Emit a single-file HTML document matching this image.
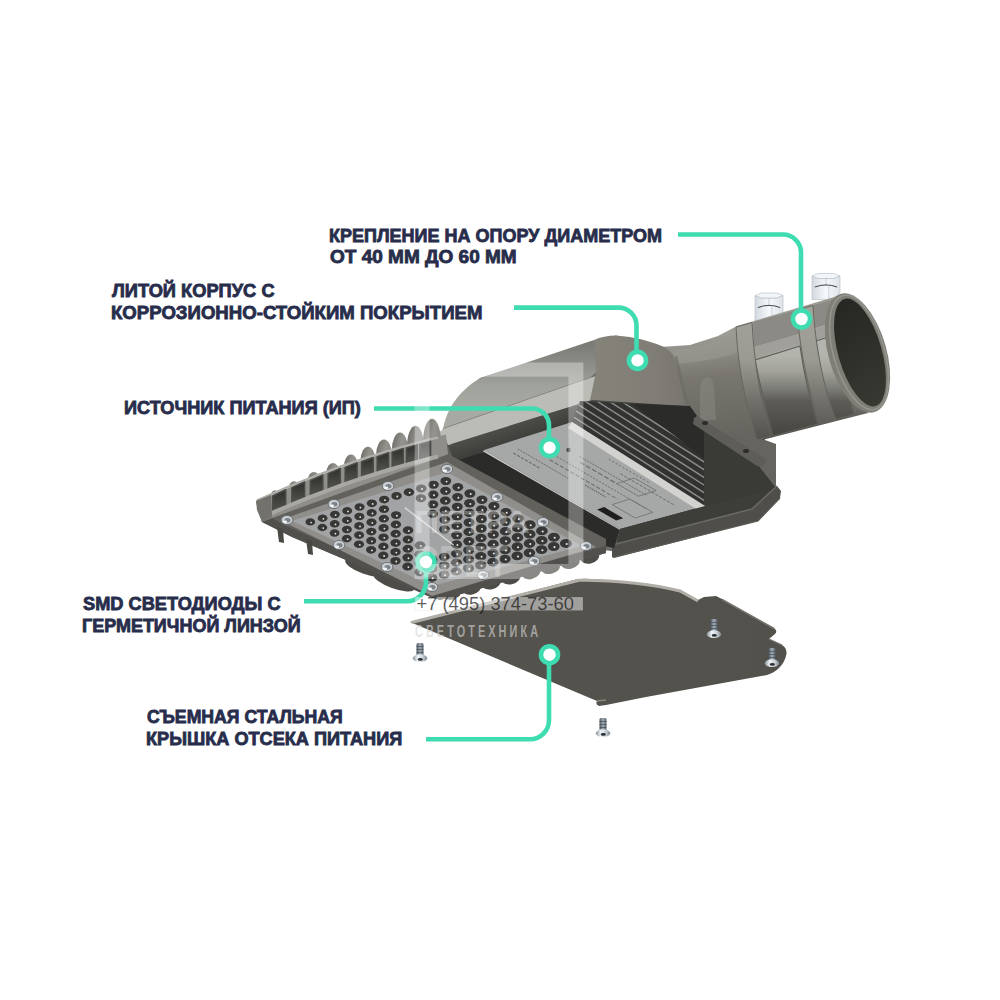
<!DOCTYPE html>
<html><head><meta charset="utf-8">
<style>
html,body{margin:0;padding:0;background:#fff;}
body{width:1000px;height:1000px;position:relative;overflow:hidden;font-family:"Liberation Sans",sans-serif;}
.t{position:absolute;color:#272d4b;font-weight:bold;font-size:18px;line-height:20px;white-space:nowrap;transform-origin:0 0;-webkit-text-stroke:0.8px #272d4b;}
svg{position:absolute;left:0;top:0;}
.wm{position:absolute;font-family:"Liberation Sans",sans-serif;white-space:nowrap;}
</style></head><body>
<svg id="lamp" width="1000" height="1000" viewBox="0 0 1000 1000">
<defs>
 <linearGradient id="gTube" gradientUnits="userSpaceOnUse" x1="0" y1="300" x2="0" y2="440">
  <stop offset="0" stop-color="#9a9992"/><stop offset="0.36" stop-color="#adada6"/><stop offset="0.64" stop-color="#7a7973"/><stop offset="1" stop-color="#4c4b46"/>
 </linearGradient>
 <linearGradient id="gNeck" gradientUnits="userSpaceOnUse" x1="700" y1="335" x2="710" y2="440">
  <stop offset="0" stop-color="#9d9c95"/><stop offset="0.4" stop-color="#78766f"/><stop offset="1" stop-color="#65645e"/>
 </linearGradient>
 <linearGradient id="gLid" gradientUnits="userSpaceOnUse" x1="0" y1="345" x2="0" y2="410">
  <stop offset="0" stop-color="#7c7c77"/><stop offset="0.4" stop-color="#92938d"/><stop offset="0.62" stop-color="#a0a29c"/><stop offset="1" stop-color="#a7a9a3"/>
 </linearGradient>
 <linearGradient id="gHump" gradientUnits="userSpaceOnUse" x1="600" y1="0" x2="690" y2="0">
  <stop offset="0" stop-color="#848279"/><stop offset="0.6" stop-color="#7f7d75"/><stop offset="1" stop-color="#77756e"/>
 </linearGradient>
 <linearGradient id="gPlate" x1="0" y1="0" x2="1" y2="0">
  <stop offset="0" stop-color="#55534d"/><stop offset="1" stop-color="#53514b"/>
 </linearGradient>
 <linearGradient id="gScrew" x1="0" y1="0" x2="1" y2="0">
  <stop offset="0" stop-color="#8a939b"/><stop offset="0.35" stop-color="#f2f6f9"/><stop offset="0.7" stop-color="#c9d0d6"/><stop offset="1" stop-color="#7c858d"/>
 </linearGradient>
 <linearGradient id="gShank" x1="0" y1="0" x2="1" y2="0">
  <stop offset="0" stop-color="#4d5760"/><stop offset="0.5" stop-color="#a3aeb7"/><stop offset="1" stop-color="#56606a"/>
 </linearGradient>
 <linearGradient id="gNut" x1="0" y1="0" x2="1" y2="0">
  <stop offset="0" stop-color="#d3d9df"/><stop offset="0.5" stop-color="#f6f9fb"/><stop offset="1" stop-color="#dde3e8"/>
 </linearGradient>
 <linearGradient id="gBand" gradientUnits="userSpaceOnUse" x1="0" y1="300" x2="0" y2="440">
  <stop offset="0" stop-color="#a5a49d"/><stop offset="0.43" stop-color="#9a9992"/><stop offset="0.71" stop-color="#72716b"/><stop offset="1" stop-color="#52514c"/>
 </linearGradient>
 <linearGradient id="gComp" gradientUnits="userSpaceOnUse" x1="500" y1="425" x2="515" y2="470">
  <stop offset="0" stop-color="#50504d"/><stop offset="0.45" stop-color="#3c3c39"/><stop offset="1" stop-color="#2a2a28"/>
 </linearGradient>
 <linearGradient id="gFin" x1="0" y1="0" x2="1" y2="0.3">
  <stop offset="0" stop-color="#6a6964"/><stop offset="0.35" stop-color="#7d7c77"/><stop offset="0.7" stop-color="#94938e"/><stop offset="1" stop-color="#8a8984"/>
 </linearGradient>
 <linearGradient id="gPanel" gradientUnits="userSpaceOnUse" x1="0" y1="355" x2="0" y2="435">
  <stop offset="0" stop-color="#b3b4ad"/><stop offset="0.2" stop-color="#a3a39c"/><stop offset="0.4" stop-color="#80807a"/><stop offset="0.58" stop-color="#5c5b56"/><stop offset="1" stop-color="#46453f"/>
 </linearGradient>
 <linearGradient id="gInner" gradientUnits="userSpaceOnUse" x1="840" y1="300" x2="880" y2="410">
  <stop offset="0" stop-color="#262622"/><stop offset="1" stop-color="#3a3a34"/>
 </linearGradient>
 <linearGradient id="gSlot" x1="0" y1="0" x2="0" y2="1">
  <stop offset="0" stop-color="#2e2e2c"/><stop offset="1" stop-color="#555550"/>
 </linearGradient>
 <clipPath id="cFins"><path d="M580 401 L633 404 L704 458 L704 507 L572 422 Z"/></clipPath>
</defs>
<path d="M660.0 347.0 L690.0 345.0 L718.0 336.0 L737.0 326.0 L765.0 440.0 L776.0 444.0 L776.0 490.0 L704.0 450.0 L680.0 405.0 Z" fill="url(#gNeck)" />
<path d="M672 350 C700 347 720 342 738 334 L740 352 C722 358 700 362 676 364 Z" fill="#9a9992" opacity="0.6"/>
<path d="M700 388 C702 375 712 372 714 388 L716 420 L700 420 Z" fill="#8a8983" opacity="0.5"/>
<path d="M755.0 295.5 L761.2 298.0 L776.8 298.0 L783.0 295.5 L783.0 321.0 L755.0 321.0 Z" fill="url(#gNut)" stroke="#b4bac0" stroke-width="0.6"/>
<path d="M761.2 293.0 L776.8 293.0 L783.0 295.5 L776.8 298.0 L761.2 298.0 L755.0 295.5 Z" fill="#f3f6f9" stroke="#b4bac0" stroke-width="0.6"/>
<path d="M769.0 298.0 L769.0 305.6" stroke="#b4bac0" stroke-width="0.7"/>
<path d="M757.8 307.6 Q769.0 303.1 780.2 307.6" fill="none" stroke="#3e4246" stroke-width="1"/>
<path d="M771.8 305.6 L771.8 321.0" stroke="#bfc5cb" stroke-width="0.7"/>
<path d="M812.0 276.0 L818.2 278.5 L833.8 278.5 L840.0 276.0 L840.0 299.5 L812.0 299.5 Z" fill="url(#gNut)" stroke="#b4bac0" stroke-width="0.6"/>
<path d="M818.2 273.5 L833.8 273.5 L840.0 276.0 L833.8 278.5 L818.2 278.5 L812.0 276.0 Z" fill="#f3f6f9" stroke="#b4bac0" stroke-width="0.6"/>
<path d="M826.0 278.5 L826.0 285.2" stroke="#b4bac0" stroke-width="0.7"/>
<path d="M814.8 287.0 Q826.0 282.9 837.2 287.0" fill="none" stroke="#3e4246" stroke-width="1"/>
<path d="M828.8 285.2 L828.8 299.5" stroke="#bfc5cb" stroke-width="0.7"/>
<path d="M737.0 326.0 L846.0 293.5 L868.0 413.0 L762.0 440.0 Z" fill="url(#gTube)" />
<path d="M753.0 322.0 L797.0 310.0 L799.0 334.0 L754.0 347.0 Z" fill="#8b8a84" />
<path d="M755 360 L800 346 C804 375 810 400 818 424 L773 436 C766 410 760 385 755 360 Z" fill="url(#gPanel)" stroke="#5f5e59" stroke-width="1.2"/>
<path d="M813.0 305.5 L838.0 298.0 L840.0 320.0 L815.0 328.0 Z" fill="#8b8a84" />
<path d="M816 341 L838 334 C842 365 848 395 854 414 L834 420 C826 395 820 370 816 341 Z" fill="url(#gPanel)" stroke="#5f5e59" stroke-width="1.2"/>
<path d="M751.0 348.0 L838.0 322.0 L839.0 333.0 L752.0 359.0 Z" fill="#a19f99" />
<path d="M736 327 L752 322.5 C754 360 760 400 771 436 L757 440 C746 405 738 370 736 327 Z" fill="url(#gBand)" stroke="#66655f" stroke-width="1"/>
<path d="M797 310 L813 305.5 C815 345 824 390 836 420 L820 424 C810 395 800 355 797 310 Z" fill="url(#gBand)" stroke="#66655f" stroke-width="1"/>
<ellipse cx="857.5" cy="353" rx="29" ry="61.5" transform="rotate(-16 857.5 353)" fill="#7e7d76"/>
<ellipse cx="859" cy="352.5" rx="25.5" ry="59" transform="rotate(-16 859 352.5)" fill="none" stroke="#96958e" stroke-width="1.5"/>
<ellipse cx="860" cy="352.5" rx="21.8" ry="55.7" transform="rotate(-16 860 352.5)" fill="url(#gInner)"/>
<path d="M444.0 428.0 L480.0 378.0 L616.0 335.5 L665.0 347.4 L680.0 405.0 L704.0 450.0 L776.0 490.0 L778.0 494.0 L756.0 518.0 L620.0 552.0 L560.0 545.0 L470.0 480.0 Z" fill="#6e6d67" />
<path d="M443 429 C447 408 458 392 480 378 L594 340 L603 342 L596 372 L590 378 Z" fill="url(#gLid)"/>
<path d="M443 429 L590 378" stroke="#7e7d77" stroke-width="1.5"/>
<path d="M443.0 429.0 L590.0 378.0 L596.0 376.0 L592.0 400.0 L426.0 452.0 L430.0 440.0 Z" fill="#bbbcb6" />
<path d="M594 340 C600 337 608 335.5 616 335.5 C635 337 650 341 665 347.4 C672 352 676 358 678 368 L684 404 L692 410 L590 400 L596 372 Z" fill="url(#gHump)"/>
<path d="M676 356 C680 372 682 392 690 410" fill="none" stroke="#6c6b64" stroke-width="3" opacity="0.6"/>
<path d="M426.0 452.0 L592.0 400.0 L684.0 406.0 L704.0 426.0 L704.0 507.0 L620.0 530.0 L484.0 452.0 L440.0 472.0 Z" fill="url(#gComp)" />
<path d="M696.0 420.0 L758.0 465.0 L776.0 488.0 L770.0 494.0 L752.0 510.0 L704.0 507.0 L704.0 426.0 Z" fill="#3a3a36" />
<path d="M633.0 404.0 L690.0 406.0 L704.0 426.0 L704.0 458.0 Z" fill="#2b2b2a" />
<path d="M580.0 401.0 L633.0 404.0 L704.0 458.0 L704.0 507.0 L572.0 422.0 Z" fill="#323231" />
<path d="M541.0 396.2 L707.7 502.8" stroke="#8e8e8c" stroke-width="1.4" clip-path="url(#cFins)"/>
<path d="M544.5 390.8 L711.2 497.3" stroke="#8e8e8c" stroke-width="1.4" clip-path="url(#cFins)"/>
<path d="M548.0 385.3 L714.7 491.8" stroke="#8e8e8c" stroke-width="1.4" clip-path="url(#cFins)"/>
<path d="M551.5 379.8 L718.2 486.4" stroke="#8e8e8c" stroke-width="1.4" clip-path="url(#cFins)"/>
<path d="M555.0 374.3 L721.7 480.9" stroke="#8e8e8c" stroke-width="1.4" clip-path="url(#cFins)"/>
<path d="M558.5 368.9 L725.2 475.4" stroke="#8e8e8c" stroke-width="1.4" clip-path="url(#cFins)"/>
<path d="M562.0 363.4 L728.7 469.9" stroke="#8e8e8c" stroke-width="1.4" clip-path="url(#cFins)"/>
<path d="M565.5 357.9 L732.2 464.4" stroke="#8e8e8c" stroke-width="1.4" clip-path="url(#cFins)"/>
<path d="M694.0 418.0 L697.0 416.0 L767.0 460.0 L764.0 466.0 L757.0 466.0 L693.0 424.0 Z" fill="#5e5d58" />
<ellipse cx="705" cy="423" rx="3" ry="2" fill="#2c2c2a"/>
<ellipse cx="746" cy="451" rx="3" ry="2" fill="#2c2c2a"/>
<path d="M484.0 450.0 L572.0 422.0 L705.0 506.0 L620.0 529.0 Z" fill="#a6a7a7" />
<path d="M484.0 450.0 L620.0 529.0 L619.0 535.0 L482.0 455.0 Z" fill="#c4c4c2" />
<path d="M572.0 422.0 L705.0 506.0 L701.0 512.0 L568.0 428.0 Z" fill="#d2d2cf" />
<path d="M513.4 452.9 L540.6 468.7" stroke="#5e5f60" stroke-width="1.2" stroke-dasharray="3 1.5" opacity="0.8"/>
<path d="M517.8 449.0 L568.1 478.3" stroke="#5e5f60" stroke-width="1.0" stroke-dasharray="2 1" opacity="0.8"/>
<path d="M549.7 459.7 L617.7 499.2" stroke="#5e5f60" stroke-width="1.1" stroke-dasharray="4 2" opacity="0.8"/>
<path d="M550.8 453.2 L646.0 508.5" stroke="#5e5f60" stroke-width="1.0" stroke-dasharray="2 1.5" opacity="0.8"/>
<path d="M580.0 462.2 L616.7 483.6" stroke="#5e5f60" stroke-width="1.3" stroke-dasharray="5 2" opacity="0.8"/>
<path d="M579.4 456.3 L647.4 495.8" stroke="#5e5f60" stroke-width="1.0" stroke-dasharray="2 1" opacity="0.8"/>
<path d="M620.4 473.8 L674.8 505.4" stroke="#5e5f60" stroke-width="1.0" stroke-dasharray="3 1.5" opacity="0.8"/>
<path d="M608.8 459.2 L649.6 482.9" stroke="#5e5f60" stroke-width="1.0" stroke-dasharray="2 2" opacity="0.8"/>
<path d="M585.2 485.1 L605.6 496.9" stroke="#5e5f60" stroke-width="1.4" stroke-dasharray="1.5 1" opacity="0.8"/>
<path d="M616.7 483.6 L634.3 478.0 L656.1 490.6 L638.5 496.2 Z" fill="none" stroke="#6c6d6e" stroke-width="0.8"/>
<path d="M612.1 504.6 L629.7 499.0 L652.8 512.4 L635.2 518.0 Z" fill="none" stroke="#6c6d6e" stroke-width="0.8"/>
<circle cx="568.5" cy="450.0" r="2.2" fill="#4a4b4c"/>
<path d="M597.1 509.4 L604.2 507.1 L623.2 518.2 L616.2 520.4 Z" fill="#1e1e1e" />
<path d="M620.0 529.0 L705.0 506.0 L770.0 490.0 L779.0 494.0 L757.0 519.0 L614.0 552.0 Z" fill="#3d3d3a" />
<path d="M612.0 557.0 L612.0 545.0 L752.0 509.0 L777.0 486.0 L781.0 491.0 L780.0 498.0 L758.0 521.0 L614.0 558.0 Z" fill="#4f4e4a" />
<path d="M612 545 L752 509 L777 486" fill="none" stroke="#6a6964" stroke-width="1.5"/>
<path d="M614 557 L758 521 L780 498" fill="none" stroke="#5d5c57" stroke-width="1.2"/>
<ellipse cx="365.0" cy="567.5" rx="21.0" ry="6.5" fill="#4d4c48" transform="rotate(20 365.0 567.5)"/>
<ellipse cx="394.0" cy="582.0" rx="21.5" ry="6.5" fill="#4d4c48" transform="rotate(20 394.0 582.0)"/>
<ellipse cx="452.0" cy="593.5" rx="9.5" ry="6" fill="#4d4c48" transform="rotate(-15 452.0 593.5)"/>
<ellipse cx="471.7" cy="588.4" rx="9.5" ry="6" fill="#4d4c48" transform="rotate(-15 471.7 588.4)"/>
<ellipse cx="491.4" cy="583.2" rx="9.5" ry="6" fill="#4d4c48" transform="rotate(-15 491.4 583.2)"/>
<ellipse cx="511.1" cy="578.1" rx="9.5" ry="6" fill="#4d4c48" transform="rotate(-15 511.1 578.1)"/>
<ellipse cx="530.9" cy="572.9" rx="9.5" ry="6" fill="#4d4c48" transform="rotate(-15 530.9 572.9)"/>
<ellipse cx="550.6" cy="567.8" rx="9.5" ry="6" fill="#4d4c48" transform="rotate(-15 550.6 567.8)"/>
<ellipse cx="570.3" cy="562.6" rx="9.5" ry="6" fill="#4d4c48" transform="rotate(-15 570.3 562.6)"/>
<ellipse cx="590.0" cy="557.5" rx="9.5" ry="6" fill="#4d4c48" transform="rotate(-15 590.0 557.5)"/>
<path d="M484.0 452.0 L620.0 530.0 L614.0 548.0 L600.0 545.0 L452.0 457.0 L440.0 466.0 Z" fill="#2b2b29" />
<path d="M256.0 501.0 L445.0 437.0 L452.0 456.0 L606.0 539.0 L606.0 553.0 L440.0 600.0 L428.0 596.0 L386.0 577.0 L346.0 560.0 L292.0 537.0 L262.0 522.0 Z" fill="#62615c" />
<path d="M262.0 522.0 L292.0 537.0 L346.0 560.0 L386.0 577.0 L428.0 596.0 L440.0 600.0 L606.0 553.0 L606.0 546.0 L436.0 591.0 L286.0 526.0 L270.0 517.0 Z" fill="#51504c" />
<path d="M277.0 527.0 L283.0 529.0 L284.0 543.0 L279.0 542.0 Z" fill="#4a4945" />
<path d="M306.0 539.0 L312.0 541.0 L313.0 555.0 L308.0 554.0 Z" fill="#4a4945" />
<path d="M271.0 495.7 A4.0 5.5 0 0 1 279.0 495.7 Z" fill="url(#gFin)"/>
<path d="M289.0 487.6 A5.0 6.3 0 0 1 299.0 487.6 Z" fill="url(#gFin)"/>
<path d="M308.0 479.6 A6.0 7.7 0 0 1 320.0 479.6 Z" fill="url(#gFin)"/>
<path d="M326.5 472.5 A6.5 9.5 0 0 1 339.5 472.5 Z" fill="url(#gFin)"/>
<path d="M344.0 466.1 A7.0 11.5 0 0 1 358.0 466.1 Z" fill="url(#gFin)"/>
<path d="M360.5 460.4 A7.5 13.6 0 0 1 375.5 460.4 Z" fill="url(#gFin)"/>
<path d="M376.0 455.3 A8.0 15.8 0 0 1 392.0 455.3 Z" fill="url(#gFin)"/>
<path d="M391.8 450.6 A8.2 18.2 0 0 1 408.2 450.6 Z" fill="url(#gFin)"/>
<path d="M407.0 446.3 A8.5 20.6 0 0 1 424.0 446.3 Z" fill="url(#gFin)"/>
<path d="M423.0 442.0 A9.0 23.3 0 0 1 441.0 442.0 Z" fill="url(#gFin)"/>
<path d="M256.0 501.0 L262.0 497.4 L270.0 493.9 L278.0 490.4 L286.0 487.0 L294.0 483.6 L302.0 480.4 L310.0 477.2 L318.0 474.1 L326.0 471.1 L334.0 468.1 L342.0 465.2 L350.0 462.4 L358.0 459.7 L366.0 457.0 L374.0 454.5 L382.0 451.9 L390.0 449.5 L398.0 447.2 L406.0 444.9 L414.0 442.7 L422.0 440.6 L430.0 438.5 L438.0 436.5 L446.0 434.6 L448.0 454.2 L272.0 518.0 L262.0 522.0 Z" fill="#8f8e88" />
<path d="M257 500.5 L262 498.4 L270 494.9 L278 491.4 L286 488.0 L294 484.6 L302 481.4 L310 478.2 L318 475.1 L326 472.1 L334 469.1 L342 466.2 L350 463.4 L358 460.7 L366 458.0 L374 455.5 L382 452.9 L390 450.5 L398 448.2 L406 445.9 L414 443.7 L422 441.6 L430 439.5 L438 437.5" fill="none" stroke="#b0afa9" stroke-width="2.5"/>
<path d="M272.8 496.0 L285.7 489.8 L285.7 506.8 L272.8 513.0 Z" fill="url(#gSlot)" stroke="#4a4a47" stroke-width="1.5" stroke-linejoin="round"/>
<path d="M291.9 487.8 L304.6 482.0 L304.6 498.7 L291.9 504.5 Z" fill="url(#gSlot)" stroke="#4a4a47" stroke-width="1.5" stroke-linejoin="round"/>
<path d="M310.4 480.4 L322.8 475.0 L322.8 491.4 L310.4 496.8 Z" fill="url(#gSlot)" stroke="#4a4a47" stroke-width="1.5" stroke-linejoin="round"/>
<path d="M328.2 473.6 L340.3 468.5 L340.3 484.6 L328.2 489.7 Z" fill="url(#gSlot)" stroke="#4a4a47" stroke-width="1.5" stroke-linejoin="round"/>
<path d="M345.2 467.4 L357.1 462.7 L357.1 478.5 L345.2 483.2 Z" fill="url(#gSlot)" stroke="#4a4a47" stroke-width="1.5" stroke-linejoin="round"/>
<path d="M361.6 461.8 L373.2 457.5 L373.2 473.0 L361.6 477.3 Z" fill="url(#gSlot)" stroke="#4a4a47" stroke-width="1.5" stroke-linejoin="round"/>
<path d="M377.2 456.7 L388.6 452.7 L388.6 467.9 L377.2 471.9 Z" fill="url(#gSlot)" stroke="#4a4a47" stroke-width="1.5" stroke-linejoin="round"/>
<path d="M392.2 452.1 L403.3 448.4 L403.3 463.3 L392.2 467.0 Z" fill="url(#gSlot)" stroke="#4a4a47" stroke-width="1.5" stroke-linejoin="round"/>
<path d="M406.4 448.0 L417.3 444.6 L417.3 459.2 L406.4 462.6 Z" fill="url(#gSlot)" stroke="#4a4a47" stroke-width="1.5" stroke-linejoin="round"/>
<path d="M419.9 444.3 L430.6 441.1 L430.6 455.4 L419.9 458.6 Z" fill="url(#gSlot)" stroke="#4a4a47" stroke-width="1.5" stroke-linejoin="round"/>
<path d="M270 513.9 L278 510.4 L286 507.0 L294 503.6 L302 500.4 L310 497.2 L318 494.1 L326 491.1 L334 488.1 L342 485.2 L350 482.4 L358 479.7 L366 477.0 L374 474.5 L382 471.9 L390 469.5 L398 467.2 L406 464.9 L414 462.7 L422 460.6 L430 458.5 L438 456.5" fill="none" stroke="#a8a7a1" stroke-width="4"/>
<path d="M256.0 501.0 L271.0 495.0 L272.0 517.0 L262.0 522.0 L257.0 510.0 Z" fill="#72716c" />
<path d="M280.0 520.0 L447.0 462.0 L596.0 547.0 L432.0 596.0 Z" fill="#8f8e8a" />
<path d="M292.0 521.0 L447.0 472.0 L582.0 546.0 L432.0 586.0 Z" fill="#a2a3a4" />
<ellipse cx="310.3" cy="521.9" rx="4.80" ry="3.65" fill="#373736"/>
<circle cx="311.1" cy="522.5" r="0.86" fill="#e8e8e6"/>
<ellipse cx="322.6" cy="518.2" rx="4.86" ry="3.69" fill="#373736"/>
<circle cx="323.4" cy="518.8" r="0.87" fill="#e8e8e6"/>
<ellipse cx="334.9" cy="514.5" rx="4.91" ry="3.73" fill="#373736"/>
<circle cx="335.7" cy="515.1" r="0.88" fill="#e8e8e6"/>
<ellipse cx="347.2" cy="510.8" rx="4.96" ry="3.77" fill="#373736"/>
<circle cx="348.0" cy="511.4" r="0.89" fill="#e8e8e6"/>
<ellipse cx="359.6" cy="507.0" rx="5.01" ry="3.81" fill="#373736"/>
<circle cx="360.4" cy="507.6" r="0.90" fill="#e8e8e6"/>
<ellipse cx="371.9" cy="503.3" rx="5.06" ry="3.85" fill="#373736"/>
<circle cx="372.7" cy="503.9" r="0.91" fill="#e8e8e6"/>
<ellipse cx="384.2" cy="499.6" rx="5.12" ry="3.89" fill="#373736"/>
<circle cx="385.0" cy="500.2" r="0.92" fill="#e8e8e6"/>
<ellipse cx="396.5" cy="495.9" rx="5.17" ry="3.93" fill="#373736"/>
<circle cx="397.3" cy="496.5" r="0.93" fill="#e8e8e6"/>
<ellipse cx="408.9" cy="492.2" rx="5.22" ry="3.97" fill="#373736"/>
<circle cx="409.7" cy="492.8" r="0.94" fill="#e8e8e6"/>
<ellipse cx="421.2" cy="488.4" rx="5.27" ry="4.01" fill="#373736"/>
<circle cx="422.0" cy="489.0" r="0.95" fill="#e8e8e6"/>
<ellipse cx="433.5" cy="484.7" rx="5.33" ry="4.05" fill="#373736"/>
<circle cx="434.3" cy="485.3" r="0.96" fill="#e8e8e6"/>
<ellipse cx="445.8" cy="481.0" rx="5.38" ry="4.09" fill="#373736"/>
<circle cx="446.6" cy="481.6" r="0.97" fill="#e8e8e6"/>
<ellipse cx="322.4" cy="527.5" rx="4.86" ry="3.69" fill="#373736"/>
<circle cx="323.2" cy="528.1" r="0.88" fill="#e8e8e6"/>
<ellipse cx="334.7" cy="523.8" rx="4.91" ry="3.73" fill="#373736"/>
<circle cx="335.5" cy="524.4" r="0.88" fill="#e8e8e6"/>
<ellipse cx="347.0" cy="520.2" rx="4.97" ry="3.77" fill="#373736"/>
<circle cx="347.8" cy="520.8" r="0.89" fill="#e8e8e6"/>
<ellipse cx="359.4" cy="516.5" rx="5.02" ry="3.81" fill="#373736"/>
<circle cx="360.2" cy="517.1" r="0.90" fill="#e8e8e6"/>
<ellipse cx="371.7" cy="512.9" rx="5.07" ry="3.85" fill="#373736"/>
<circle cx="372.5" cy="513.5" r="0.91" fill="#e8e8e6"/>
<ellipse cx="384.0" cy="509.2" rx="5.12" ry="3.89" fill="#373736"/>
<circle cx="384.8" cy="509.8" r="0.92" fill="#e8e8e6"/>
<ellipse cx="420.9" cy="498.2" rx="5.28" ry="4.01" fill="#373736"/>
<circle cx="421.7" cy="498.8" r="0.95" fill="#e8e8e6"/>
<ellipse cx="433.2" cy="494.6" rx="5.33" ry="4.05" fill="#373736"/>
<circle cx="434.0" cy="495.2" r="0.96" fill="#e8e8e6"/>
<ellipse cx="445.5" cy="490.9" rx="5.38" ry="4.09" fill="#373736"/>
<circle cx="446.3" cy="491.5" r="0.97" fill="#e8e8e6"/>
<ellipse cx="457.8" cy="487.2" rx="5.43" ry="4.13" fill="#373736"/>
<circle cx="458.6" cy="487.8" r="0.98" fill="#e8e8e6"/>
<ellipse cx="334.6" cy="533.1" rx="4.92" ry="3.74" fill="#373736"/>
<circle cx="335.4" cy="533.7" r="0.89" fill="#e8e8e6"/>
<ellipse cx="346.9" cy="529.5" rx="4.97" ry="3.78" fill="#373736"/>
<circle cx="347.7" cy="530.1" r="0.89" fill="#e8e8e6"/>
<ellipse cx="359.2" cy="525.9" rx="5.02" ry="3.82" fill="#373736"/>
<circle cx="360.0" cy="526.5" r="0.90" fill="#e8e8e6"/>
<ellipse cx="371.5" cy="522.3" rx="5.07" ry="3.86" fill="#373736"/>
<circle cx="372.3" cy="522.9" r="0.91" fill="#e8e8e6"/>
<ellipse cx="383.8" cy="518.7" rx="5.13" ry="3.90" fill="#373736"/>
<circle cx="384.6" cy="519.3" r="0.92" fill="#e8e8e6"/>
<ellipse cx="396.1" cy="515.1" rx="5.18" ry="3.94" fill="#373736"/>
<circle cx="396.9" cy="515.7" r="0.93" fill="#e8e8e6"/>
<ellipse cx="433.0" cy="504.3" rx="5.33" ry="4.05" fill="#373736"/>
<circle cx="433.8" cy="504.9" r="0.96" fill="#e8e8e6"/>
<ellipse cx="445.3" cy="500.7" rx="5.39" ry="4.09" fill="#373736"/>
<circle cx="446.1" cy="501.3" r="0.97" fill="#e8e8e6"/>
<ellipse cx="457.6" cy="497.1" rx="5.44" ry="4.13" fill="#373736"/>
<circle cx="458.4" cy="497.7" r="0.98" fill="#e8e8e6"/>
<ellipse cx="469.9" cy="493.5" rx="5.49" ry="4.17" fill="#373736"/>
<circle cx="470.7" cy="494.1" r="0.99" fill="#e8e8e6"/>
<ellipse cx="346.8" cy="538.6" rx="4.97" ry="3.78" fill="#373736"/>
<circle cx="347.6" cy="539.2" r="0.90" fill="#e8e8e6"/>
<ellipse cx="359.1" cy="535.1" rx="5.03" ry="3.82" fill="#373736"/>
<circle cx="359.9" cy="535.7" r="0.90" fill="#e8e8e6"/>
<ellipse cx="371.3" cy="531.6" rx="5.08" ry="3.86" fill="#373736"/>
<circle cx="372.1" cy="532.2" r="0.91" fill="#e8e8e6"/>
<ellipse cx="383.6" cy="528.0" rx="5.13" ry="3.90" fill="#373736"/>
<circle cx="384.4" cy="528.6" r="0.92" fill="#e8e8e6"/>
<ellipse cx="395.9" cy="524.5" rx="5.18" ry="3.94" fill="#373736"/>
<circle cx="396.7" cy="525.1" r="0.93" fill="#e8e8e6"/>
<ellipse cx="432.7" cy="513.9" rx="5.34" ry="4.06" fill="#373736"/>
<circle cx="433.5" cy="514.5" r="0.96" fill="#e8e8e6"/>
<ellipse cx="445.0" cy="510.3" rx="5.39" ry="4.10" fill="#373736"/>
<circle cx="445.8" cy="510.9" r="0.97" fill="#e8e8e6"/>
<ellipse cx="457.3" cy="506.8" rx="5.44" ry="4.14" fill="#373736"/>
<circle cx="458.1" cy="507.4" r="0.98" fill="#e8e8e6"/>
<ellipse cx="469.6" cy="503.3" rx="5.50" ry="4.18" fill="#373736"/>
<circle cx="470.4" cy="503.9" r="0.99" fill="#e8e8e6"/>
<ellipse cx="481.9" cy="499.7" rx="5.55" ry="4.22" fill="#373736"/>
<circle cx="482.7" cy="500.3" r="1.00" fill="#e8e8e6"/>
<ellipse cx="359.0" cy="544.2" rx="5.03" ry="3.82" fill="#373736"/>
<circle cx="359.8" cy="544.8" r="0.91" fill="#e8e8e6"/>
<ellipse cx="371.2" cy="540.7" rx="5.08" ry="3.86" fill="#373736"/>
<circle cx="372.0" cy="541.3" r="0.92" fill="#e8e8e6"/>
<ellipse cx="383.5" cy="537.3" rx="5.14" ry="3.90" fill="#373736"/>
<circle cx="384.3" cy="537.9" r="0.92" fill="#e8e8e6"/>
<ellipse cx="395.7" cy="533.8" rx="5.19" ry="3.94" fill="#373736"/>
<circle cx="396.5" cy="534.4" r="0.93" fill="#e8e8e6"/>
<ellipse cx="408.0" cy="530.3" rx="5.24" ry="3.98" fill="#373736"/>
<circle cx="408.8" cy="530.9" r="0.94" fill="#e8e8e6"/>
<ellipse cx="444.8" cy="519.9" rx="5.40" ry="4.10" fill="#373736"/>
<circle cx="445.6" cy="520.5" r="0.97" fill="#e8e8e6"/>
<ellipse cx="457.1" cy="516.4" rx="5.45" ry="4.14" fill="#373736"/>
<circle cx="457.9" cy="517.0" r="0.98" fill="#e8e8e6"/>
<ellipse cx="469.3" cy="512.9" rx="5.50" ry="4.18" fill="#373736"/>
<circle cx="470.1" cy="513.5" r="0.99" fill="#e8e8e6"/>
<ellipse cx="481.6" cy="509.4" rx="5.55" ry="4.22" fill="#373736"/>
<circle cx="482.4" cy="510.0" r="1.00" fill="#e8e8e6"/>
<ellipse cx="493.9" cy="506.0" rx="5.60" ry="4.26" fill="#373736"/>
<circle cx="494.7" cy="506.6" r="1.01" fill="#e8e8e6"/>
<ellipse cx="371.1" cy="549.8" rx="5.09" ry="3.87" fill="#373736"/>
<circle cx="371.9" cy="550.4" r="0.92" fill="#e8e8e6"/>
<ellipse cx="383.4" cy="546.4" rx="5.14" ry="3.91" fill="#373736"/>
<circle cx="384.2" cy="547.0" r="0.93" fill="#e8e8e6"/>
<ellipse cx="395.6" cy="543.0" rx="5.19" ry="3.95" fill="#373736"/>
<circle cx="396.4" cy="543.6" r="0.93" fill="#e8e8e6"/>
<ellipse cx="407.9" cy="539.5" rx="5.24" ry="3.99" fill="#373736"/>
<circle cx="408.7" cy="540.1" r="0.94" fill="#e8e8e6"/>
<ellipse cx="444.6" cy="529.3" rx="5.40" ry="4.10" fill="#373736"/>
<circle cx="445.4" cy="529.9" r="0.97" fill="#e8e8e6"/>
<ellipse cx="456.9" cy="525.9" rx="5.45" ry="4.14" fill="#373736"/>
<circle cx="457.7" cy="526.5" r="0.98" fill="#e8e8e6"/>
<ellipse cx="469.1" cy="522.5" rx="5.51" ry="4.18" fill="#373736"/>
<circle cx="469.9" cy="523.1" r="0.99" fill="#e8e8e6"/>
<ellipse cx="481.4" cy="519.0" rx="5.56" ry="4.22" fill="#373736"/>
<circle cx="482.2" cy="519.6" r="1.00" fill="#e8e8e6"/>
<ellipse cx="493.6" cy="515.6" rx="5.61" ry="4.26" fill="#373736"/>
<circle cx="494.4" cy="516.2" r="1.01" fill="#e8e8e6"/>
<ellipse cx="505.9" cy="512.2" rx="5.66" ry="4.30" fill="#373736"/>
<circle cx="506.7" cy="512.8" r="1.02" fill="#e8e8e6"/>
<ellipse cx="383.3" cy="555.4" rx="5.15" ry="3.91" fill="#373736"/>
<circle cx="384.1" cy="556.0" r="0.93" fill="#e8e8e6"/>
<ellipse cx="395.5" cy="552.0" rx="5.20" ry="3.95" fill="#373736"/>
<circle cx="396.3" cy="552.6" r="0.94" fill="#e8e8e6"/>
<ellipse cx="407.8" cy="548.7" rx="5.25" ry="3.99" fill="#373736"/>
<circle cx="408.6" cy="549.3" r="0.94" fill="#e8e8e6"/>
<ellipse cx="420.0" cy="545.3" rx="5.30" ry="4.03" fill="#373736"/>
<circle cx="420.8" cy="545.9" r="0.95" fill="#e8e8e6"/>
<ellipse cx="456.7" cy="535.2" rx="5.46" ry="4.15" fill="#373736"/>
<circle cx="457.5" cy="535.8" r="0.98" fill="#e8e8e6"/>
<ellipse cx="468.9" cy="531.9" rx="5.51" ry="4.19" fill="#373736"/>
<circle cx="469.7" cy="532.5" r="0.99" fill="#e8e8e6"/>
<ellipse cx="481.2" cy="528.5" rx="5.56" ry="4.23" fill="#373736"/>
<circle cx="482.0" cy="529.1" r="1.00" fill="#e8e8e6"/>
<ellipse cx="493.4" cy="525.2" rx="5.61" ry="4.27" fill="#373736"/>
<circle cx="494.2" cy="525.8" r="1.01" fill="#e8e8e6"/>
<ellipse cx="505.6" cy="521.8" rx="5.67" ry="4.31" fill="#373736"/>
<circle cx="506.4" cy="522.4" r="1.02" fill="#e8e8e6"/>
<ellipse cx="517.9" cy="518.5" rx="5.72" ry="4.35" fill="#373736"/>
<circle cx="518.7" cy="519.1" r="1.03" fill="#e8e8e6"/>
<ellipse cx="395.5" cy="560.9" rx="5.20" ry="3.95" fill="#373736"/>
<circle cx="396.3" cy="561.5" r="0.94" fill="#e8e8e6"/>
<ellipse cx="407.7" cy="557.6" rx="5.25" ry="3.99" fill="#373736"/>
<circle cx="408.5" cy="558.2" r="0.95" fill="#e8e8e6"/>
<ellipse cx="419.9" cy="554.4" rx="5.31" ry="4.03" fill="#373736"/>
<circle cx="420.7" cy="555.0" r="0.96" fill="#e8e8e6"/>
<ellipse cx="456.6" cy="544.5" rx="5.46" ry="4.15" fill="#373736"/>
<circle cx="457.4" cy="545.1" r="0.98" fill="#e8e8e6"/>
<ellipse cx="468.8" cy="541.2" rx="5.51" ry="4.19" fill="#373736"/>
<circle cx="469.6" cy="541.8" r="0.99" fill="#e8e8e6"/>
<ellipse cx="481.0" cy="537.9" rx="5.57" ry="4.23" fill="#373736"/>
<circle cx="481.8" cy="538.5" r="1.00" fill="#e8e8e6"/>
<ellipse cx="493.2" cy="534.6" rx="5.62" ry="4.27" fill="#373736"/>
<circle cx="494.0" cy="535.2" r="1.01" fill="#e8e8e6"/>
<ellipse cx="505.5" cy="531.3" rx="5.67" ry="4.31" fill="#373736"/>
<circle cx="506.3" cy="531.9" r="1.02" fill="#e8e8e6"/>
<ellipse cx="517.7" cy="528.0" rx="5.72" ry="4.35" fill="#373736"/>
<circle cx="518.5" cy="528.6" r="1.03" fill="#e8e8e6"/>
<ellipse cx="529.9" cy="524.7" rx="5.78" ry="4.39" fill="#373736"/>
<circle cx="530.7" cy="525.3" r="1.04" fill="#e8e8e6"/>
<ellipse cx="407.6" cy="566.5" rx="5.26" ry="4.00" fill="#373736"/>
<circle cx="408.4" cy="567.1" r="0.95" fill="#e8e8e6"/>
<ellipse cx="419.9" cy="563.3" rx="5.31" ry="4.04" fill="#373736"/>
<circle cx="420.7" cy="563.9" r="0.96" fill="#e8e8e6"/>
<ellipse cx="432.1" cy="560.0" rx="5.36" ry="4.08" fill="#373736"/>
<circle cx="432.9" cy="560.6" r="0.97" fill="#e8e8e6"/>
<ellipse cx="444.3" cy="556.8" rx="5.42" ry="4.12" fill="#373736"/>
<circle cx="445.1" cy="557.4" r="0.97" fill="#e8e8e6"/>
<ellipse cx="456.5" cy="553.6" rx="5.47" ry="4.16" fill="#373736"/>
<circle cx="457.3" cy="554.2" r="0.98" fill="#e8e8e6"/>
<ellipse cx="468.7" cy="550.3" rx="5.52" ry="4.19" fill="#373736"/>
<circle cx="469.5" cy="550.9" r="0.99" fill="#e8e8e6"/>
<ellipse cx="480.9" cy="547.1" rx="5.57" ry="4.23" fill="#373736"/>
<circle cx="481.7" cy="547.7" r="1.00" fill="#e8e8e6"/>
<ellipse cx="493.1" cy="543.9" rx="5.62" ry="4.27" fill="#373736"/>
<circle cx="493.9" cy="544.5" r="1.01" fill="#e8e8e6"/>
<ellipse cx="505.3" cy="540.6" rx="5.68" ry="4.31" fill="#373736"/>
<circle cx="506.1" cy="541.2" r="1.02" fill="#e8e8e6"/>
<ellipse cx="517.5" cy="537.4" rx="5.73" ry="4.35" fill="#373736"/>
<circle cx="518.3" cy="538.0" r="1.03" fill="#e8e8e6"/>
<ellipse cx="529.7" cy="534.2" rx="5.78" ry="4.39" fill="#373736"/>
<circle cx="530.5" cy="534.8" r="1.04" fill="#e8e8e6"/>
<ellipse cx="541.9" cy="530.9" rx="5.83" ry="4.43" fill="#373736"/>
<circle cx="542.7" cy="531.5" r="1.05" fill="#e8e8e6"/>
<ellipse cx="419.8" cy="572.1" rx="5.32" ry="4.04" fill="#373736"/>
<circle cx="420.6" cy="572.7" r="0.96" fill="#e8e8e6"/>
<ellipse cx="432.0" cy="568.9" rx="5.37" ry="4.08" fill="#373736"/>
<circle cx="432.8" cy="569.5" r="0.97" fill="#e8e8e6"/>
<ellipse cx="444.2" cy="565.7" rx="5.42" ry="4.12" fill="#373736"/>
<circle cx="445.0" cy="566.3" r="0.98" fill="#e8e8e6"/>
<ellipse cx="456.4" cy="562.6" rx="5.47" ry="4.16" fill="#373736"/>
<circle cx="457.2" cy="563.2" r="0.98" fill="#e8e8e6"/>
<ellipse cx="468.6" cy="559.4" rx="5.52" ry="4.20" fill="#373736"/>
<circle cx="469.4" cy="560.0" r="0.99" fill="#e8e8e6"/>
<ellipse cx="480.8" cy="556.2" rx="5.58" ry="4.24" fill="#373736"/>
<circle cx="481.6" cy="556.8" r="1.00" fill="#e8e8e6"/>
<ellipse cx="493.0" cy="553.0" rx="5.63" ry="4.28" fill="#373736"/>
<circle cx="493.8" cy="553.6" r="1.01" fill="#e8e8e6"/>
<ellipse cx="505.1" cy="549.9" rx="5.68" ry="4.32" fill="#373736"/>
<circle cx="505.9" cy="550.5" r="1.02" fill="#e8e8e6"/>
<ellipse cx="517.3" cy="546.7" rx="5.73" ry="4.36" fill="#373736"/>
<circle cx="518.1" cy="547.3" r="1.03" fill="#e8e8e6"/>
<ellipse cx="529.5" cy="543.5" rx="5.78" ry="4.40" fill="#373736"/>
<circle cx="530.3" cy="544.1" r="1.04" fill="#e8e8e6"/>
<ellipse cx="541.7" cy="540.4" rx="5.84" ry="4.44" fill="#373736"/>
<circle cx="542.5" cy="541.0" r="1.05" fill="#e8e8e6"/>
<ellipse cx="553.9" cy="537.2" rx="5.89" ry="4.48" fill="#373736"/>
<circle cx="554.7" cy="537.8" r="1.06" fill="#e8e8e6"/>
<ellipse cx="432.0" cy="577.7" rx="5.37" ry="4.08" fill="#373736"/>
<circle cx="432.8" cy="578.3" r="0.97" fill="#e8e8e6"/>
<ellipse cx="444.2" cy="574.6" rx="5.42" ry="4.12" fill="#373736"/>
<circle cx="445.0" cy="575.2" r="0.98" fill="#e8e8e6"/>
<ellipse cx="456.3" cy="571.4" rx="5.48" ry="4.16" fill="#373736"/>
<circle cx="457.1" cy="572.0" r="0.99" fill="#e8e8e6"/>
<ellipse cx="468.5" cy="568.3" rx="5.53" ry="4.20" fill="#373736"/>
<circle cx="469.3" cy="568.9" r="1.00" fill="#e8e8e6"/>
<ellipse cx="480.7" cy="565.2" rx="5.58" ry="4.24" fill="#373736"/>
<circle cx="481.5" cy="565.8" r="1.00" fill="#e8e8e6"/>
<ellipse cx="492.9" cy="562.1" rx="5.63" ry="4.28" fill="#373736"/>
<circle cx="493.7" cy="562.7" r="1.01" fill="#e8e8e6"/>
<ellipse cx="505.0" cy="559.0" rx="5.69" ry="4.32" fill="#373736"/>
<circle cx="505.8" cy="559.6" r="1.02" fill="#e8e8e6"/>
<ellipse cx="517.2" cy="555.9" rx="5.74" ry="4.36" fill="#373736"/>
<circle cx="518.0" cy="556.5" r="1.03" fill="#e8e8e6"/>
<ellipse cx="529.4" cy="552.8" rx="5.79" ry="4.40" fill="#373736"/>
<circle cx="530.2" cy="553.4" r="1.04" fill="#e8e8e6"/>
<ellipse cx="541.6" cy="549.6" rx="5.84" ry="4.44" fill="#373736"/>
<circle cx="542.4" cy="550.2" r="1.05" fill="#e8e8e6"/>
<ellipse cx="553.7" cy="546.5" rx="5.89" ry="4.48" fill="#373736"/>
<circle cx="554.5" cy="547.1" r="1.06" fill="#e8e8e6"/>
<ellipse cx="565.9" cy="543.4" rx="5.95" ry="4.52" fill="#373736"/>
<circle cx="566.7" cy="544.0" r="1.07" fill="#e8e8e6"/>
<path d="M404.8 507.6 L453.6 545.1" stroke="#e4e4e2" stroke-width="1.5" opacity="0.8"/>
<ellipse cx="287" cy="520" rx="5.8" ry="4.6" fill="#c9ced3" stroke="#5d6267" stroke-width="0.8"/>
<ellipse cx="287.5" cy="520.3" rx="3" ry="2.2" fill="#7c8288"/>
<ellipse cx="285.0" cy="521.8" rx="2.2" ry="1.4" fill="#f2f5f7"/>
<ellipse cx="334" cy="504" rx="5.8" ry="4.6" fill="#c9ced3" stroke="#5d6267" stroke-width="0.8"/>
<ellipse cx="334.5" cy="504.3" rx="3" ry="2.2" fill="#7c8288"/>
<ellipse cx="332.0" cy="505.8" rx="2.2" ry="1.4" fill="#f2f5f7"/>
<ellipse cx="388" cy="486" rx="5.8" ry="4.6" fill="#c9ced3" stroke="#5d6267" stroke-width="0.8"/>
<ellipse cx="388.5" cy="486.3" rx="3" ry="2.2" fill="#7c8288"/>
<ellipse cx="386.0" cy="487.8" rx="2.2" ry="1.4" fill="#f2f5f7"/>
<ellipse cx="447" cy="469" rx="5.8" ry="4.6" fill="#c9ced3" stroke="#5d6267" stroke-width="0.8"/>
<ellipse cx="447.5" cy="469.3" rx="3" ry="2.2" fill="#7c8288"/>
<ellipse cx="445.0" cy="470.8" rx="2.2" ry="1.4" fill="#f2f5f7"/>
<ellipse cx="497" cy="497" rx="5.8" ry="4.6" fill="#c9ced3" stroke="#5d6267" stroke-width="0.8"/>
<ellipse cx="497.5" cy="497.3" rx="3" ry="2.2" fill="#7c8288"/>
<ellipse cx="495.0" cy="498.8" rx="2.2" ry="1.4" fill="#f2f5f7"/>
<ellipse cx="543" cy="522" rx="5.8" ry="4.6" fill="#c9ced3" stroke="#5d6267" stroke-width="0.8"/>
<ellipse cx="543.5" cy="522.3" rx="3" ry="2.2" fill="#7c8288"/>
<ellipse cx="541.0" cy="523.8" rx="2.2" ry="1.4" fill="#f2f5f7"/>
<ellipse cx="586" cy="546" rx="5.8" ry="4.6" fill="#c9ced3" stroke="#5d6267" stroke-width="0.8"/>
<ellipse cx="586.5" cy="546.3" rx="3" ry="2.2" fill="#7c8288"/>
<ellipse cx="584.0" cy="547.8" rx="2.2" ry="1.4" fill="#f2f5f7"/>
<ellipse cx="534" cy="561" rx="5.8" ry="4.6" fill="#c9ced3" stroke="#5d6267" stroke-width="0.8"/>
<ellipse cx="534.5" cy="561.3" rx="3" ry="2.2" fill="#7c8288"/>
<ellipse cx="532.0" cy="562.8" rx="2.2" ry="1.4" fill="#f2f5f7"/>
<ellipse cx="483" cy="575" rx="5.8" ry="4.6" fill="#c9ced3" stroke="#5d6267" stroke-width="0.8"/>
<ellipse cx="483.5" cy="575.3" rx="3" ry="2.2" fill="#7c8288"/>
<ellipse cx="481.0" cy="576.8" rx="2.2" ry="1.4" fill="#f2f5f7"/>
<ellipse cx="432" cy="587" rx="5.8" ry="4.6" fill="#c9ced3" stroke="#5d6267" stroke-width="0.8"/>
<ellipse cx="432.5" cy="587.3" rx="3" ry="2.2" fill="#7c8288"/>
<ellipse cx="430.0" cy="588.8" rx="2.2" ry="1.4" fill="#f2f5f7"/>
<ellipse cx="387" cy="567" rx="5.8" ry="4.6" fill="#c9ced3" stroke="#5d6267" stroke-width="0.8"/>
<ellipse cx="387.5" cy="567.3" rx="3" ry="2.2" fill="#7c8288"/>
<ellipse cx="385.0" cy="568.8" rx="2.2" ry="1.4" fill="#f2f5f7"/>
<ellipse cx="339" cy="545" rx="5.8" ry="4.6" fill="#c9ced3" stroke="#5d6267" stroke-width="0.8"/>
<ellipse cx="339.5" cy="545.3" rx="3" ry="2.2" fill="#7c8288"/>
<ellipse cx="337.0" cy="546.8" rx="2.2" ry="1.4" fill="#f2f5f7"/>
<path d="M410 622 L576 579.5 Q582 578.5 590 579 Q640 581 680 590 L698 600 L704 597 L716 596 L722 599 L774 628 Q778 631 775 634 L769 639 L782 645 Q787 648 786.5 654 Q785 662 779 668 Q774 673 767 675 L712 685 L646 697 L606 705 L599 706 Q595 704 597 701 Z" fill="url(#gPlate)"/>
<path d="M597 701 L606 700" stroke="#8a8780" stroke-width="1.5"/>
<path d="M411.5 622.5 L580 580 Q640 581 680 591 L698 601" fill="none" stroke="#b0aea7" stroke-width="3"/>
<path d="M722 599.5 L774 628.5" fill="none" stroke="#77746d" stroke-width="1.5"/>
<path d="M769 639 L782 645" fill="none" stroke="#77746d" stroke-width="1.2"/>
<rect x="416.5" y="643.0" width="7" height="13" rx="1.5" fill="url(#gShank)"/><path d="M416.5 646.5 h7 M416.5 649.5 h7 M416.5 652.5 h7" stroke="#3e464d" stroke-width="0.9" opacity="0.7"/><ellipse cx="420.0" cy="658.2" rx="7.2" ry="3.9" fill="url(#gScrew)"/><ellipse cx="420.3" cy="659.4" rx="2.6" ry="1.4" fill="#2c3136"/>
<rect x="710.5" y="619.0" width="7" height="13" rx="1.5" fill="url(#gShank)"/><path d="M710.5 622.5 h7 M710.5 625.5 h7 M710.5 628.5 h7" stroke="#3e464d" stroke-width="0.9" opacity="0.7"/><ellipse cx="714.0" cy="634.2" rx="7.2" ry="3.9" fill="url(#gScrew)"/><ellipse cx="714.3" cy="635.4" rx="2.6" ry="1.4" fill="#2c3136"/>
<rect x="768.5" y="648.0" width="7" height="13" rx="1.5" fill="url(#gShank)"/><path d="M768.5 651.5 h7 M768.5 654.5 h7 M768.5 657.5 h7" stroke="#3e464d" stroke-width="0.9" opacity="0.7"/><ellipse cx="772.0" cy="663.2" rx="7.2" ry="3.9" fill="url(#gScrew)"/><ellipse cx="772.3" cy="664.4" rx="2.6" ry="1.4" fill="#2c3136"/>
<rect x="599.5" y="718.0" width="7" height="13" rx="1.5" fill="url(#gShank)"/><path d="M599.5 721.5 h7 M599.5 724.5 h7 M599.5 727.5 h7" stroke="#3e464d" stroke-width="0.9" opacity="0.7"/><ellipse cx="603.0" cy="733.2" rx="7.2" ry="3.9" fill="url(#gScrew)"/><ellipse cx="603.3" cy="734.4" rx="2.6" ry="1.4" fill="#2c3136"/>
</svg>
<div class="t" style="left:329.0px;top:225.6px;transform:scaleX(1.0000)">КРЕПЛЕНИЕ НА ОПОРУ ДИАМЕТРОМ</div>
<div class="t" style="left:330.0px;top:247.3px;transform:scaleX(1.0557)">ОТ 40 ММ ДО 60 ММ</div>
<div class="t" style="left:112.0px;top:281.4px;transform:scaleX(1.0150)">ЛИТОЙ КОРПУС С</div>
<div class="t" style="left:111.4px;top:303.2px;transform:scaleX(1.0335)">КОРРОЗИОННО-СТОЙКИМ ПОКРЫТИЕМ</div>
<div class="t" style="left:123.9px;top:397.9px;transform:scaleX(1.0077)">ИСТОЧНИК ПИТАНИЯ (ИП)</div>
<div class="t" style="left:82.9px;top:593.7px;transform:scaleX(1.0118)">SMD СВЕТОДИОДЫ С</div>
<div class="t" style="left:82.4px;top:615.8px;transform:scaleX(0.9986)">ГЕРМЕТИЧНОЙ ЛИНЗОЙ</div>
<div class="t" style="left:147.0px;top:707.0px;transform:scaleX(0.9809)">СЪЕМНАЯ СТАЛЬНАЯ</div>
<div class="t" style="left:146.0px;top:728.8px;transform:scaleX(1.0079)">КРЫШКА ОТСЕКА ПИТАНИЯ</div>

<svg id="lines" width="1000" height="1000" viewBox="0 0 1000 1000" fill="none" stroke="#3fdcb1" stroke-width="4.6">
<path d="M678 234.5 H783 A18 18 0 0 1 801 252.5 V310"/>
<circle cx="801.5" cy="319" r="8.5" fill="#fff"/>
<path d="M514 307.6 H618 A18 18 0 0 1 636.5 325.6 V352"/>
<circle cx="637.5" cy="360.4" r="8.5" fill="#fff"/>
<path d="M374 408.5 H532 A17 17 0 0 1 549 425.5 V440"/>
<circle cx="549.5" cy="447.6" r="8.5" fill="#fff"/>
<path d="M304 601.2 H407 A19 19 0 0 0 426 582 V570"/>
<circle cx="426" cy="562" r="8.5" fill="#fff"/>
<path d="M426 739.2 H530 A19 19 0 0 0 549 720 V663"/>
<circle cx="549.5" cy="654.7" r="8.5" fill="#fff"/>
</svg>

<svg id="wm" width="1000" height="1000" viewBox="0 0 1000 1000">
<path d="M414.6 362.4 H583.4 V579 H414.6 Z M429.6 376.8 V564 H568.4 V376.8 Z" fill="#fff" fill-opacity="0.33" fill-rule="evenodd"/>
<text x="414" y="533" font-family="Liberation Sans" font-weight="bold" font-size="32" fill="#fff" fill-opacity="0.3" textLength="116" lengthAdjust="spacingAndGlyphs">ПЕТРА</text>
<text x="414" y="577" font-family="Liberation Sans" font-weight="bold" font-size="44" fill="#fff" fill-opacity="0.25" textLength="94" lengthAdjust="spacingAndGlyphs">СВЕТ</text>
<rect x="415" y="597" width="168" height="13.5" fill="#fff" fill-opacity="0.45"/>
<rect x="415" y="597" width="168" height="13.5" fill="none" stroke="#000" stroke-opacity="0.05" stroke-width="0.8"/>
<text x="416.5" y="610" font-family="Liberation Sans" font-size="18.6" fill="#111" fill-opacity="0.7" textLength="157.5" lengthAdjust="spacingAndGlyphs">+7 (495) 374-73-60</text>
<text transform="translate(415 637) scale(0.66 1)" x="0" y="0" font-family="Liberation Sans" font-weight="bold" font-size="16.5" fill="#d6d6d4" fill-opacity="0.62" textLength="186.4" lengthAdjust="spacing">СВЕТОТЕХНИКА</text>
</svg>

</body></html>
